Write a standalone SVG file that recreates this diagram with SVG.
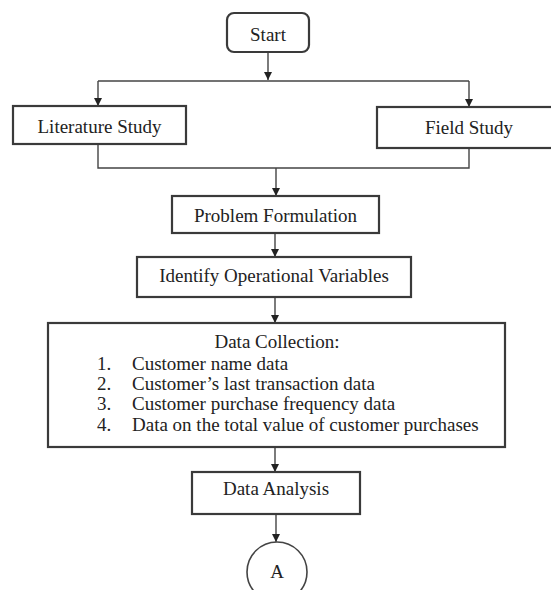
<svg xmlns="http://www.w3.org/2000/svg" width="551" height="590" viewBox="0 0 551 590">
<style>
.box{fill:#fff;stroke:#3a3a3a;stroke-width:2.2}
.t{font-family:"Liberation Serif","Times New Roman",serif;font-size:19px;fill:#222}
.c{text-anchor:middle}
.ln{fill:none;stroke:#444;stroke-width:1.4}
</style>
<defs>
<marker id="ah" viewBox="0 0 10 10" refX="10" refY="5" markerWidth="8" markerHeight="8" markerUnits="userSpaceOnUse" orient="auto">
<path d="M0,0 L10,5 L0,10 z" fill="#222"/>
</marker>
</defs>
<rect width="551" height="590" fill="#fff"/>
<g id="connectors">
<path class="ln" d="M268,52 V80" marker-end="url(#ah)"/>
<path class="ln" d="M98,81 H469"/>
<path class="ln" d="M98,81 V106" marker-end="url(#ah)"/>
<path class="ln" d="M469,81 V107" marker-end="url(#ah)"/>
<path class="ln" d="M98,144 V168 H469 V148"/>
<path class="ln" d="M276,168 V196" marker-end="url(#ah)"/>
<path class="ln" d="M275,233 V257" marker-end="url(#ah)"/>
<path class="ln" d="M275,297 V323" marker-end="url(#ah)"/>
<path class="ln" d="M275,447 V472" marker-end="url(#ah)"/>
<path class="ln" d="M276,514 V542" marker-end="url(#ah)"/>
</g>
<g id="start">
<rect class="box" x="227" y="13" width="82" height="39" rx="7"/>
<text class="t c" x="268" y="41">Start</text>
</g>
<g id="literature">
<rect class="box" x="13" y="106" width="173" height="38"/>
<text class="t c" x="99.5" y="133">Literature Study</text>
</g>
<g id="field">
<rect class="box" x="377" y="107" width="185" height="41"/>
<text class="t c" x="469" y="134">Field Study</text>
</g>
<g id="problem">
<rect class="box" x="172" y="196" width="207" height="37"/>
<text class="t c" x="275.5" y="222">Problem Formulation</text>
</g>
<g id="identify">
<rect class="box" x="137" y="257" width="274" height="40"/>
<text class="t c" x="274" y="282">Identify Operational Variables</text>
</g>
<g id="datacollection">
<rect class="box" x="48" y="323" width="457" height="124"/>
<text class="t c" x="277" y="348">Data Collection:</text>
<text class="t" x="97" y="370">1.</text><text class="t" x="132" y="370">Customer name data</text>
<text class="t" x="97" y="390">2.</text><text class="t" x="132" y="390">Customer’s last transaction data</text>
<text class="t" x="97" y="410">3.</text><text class="t" x="132" y="410">Customer purchase frequency data</text>
<text class="t" x="97" y="431">4.</text><text class="t" x="132" y="431">Data on the total value of customer purchases</text>
</g>
<g id="analysis">
<rect class="box" x="192" y="472" width="168" height="42"/>
<text class="t c" x="276" y="495">Data Analysis</text>
</g>
<g id="connectorA">
<circle cx="277" cy="572" r="30" fill="#fff" stroke="#444" stroke-width="1.6"/>
<text class="t c" x="277" y="578">A</text>
</g>
</svg>
